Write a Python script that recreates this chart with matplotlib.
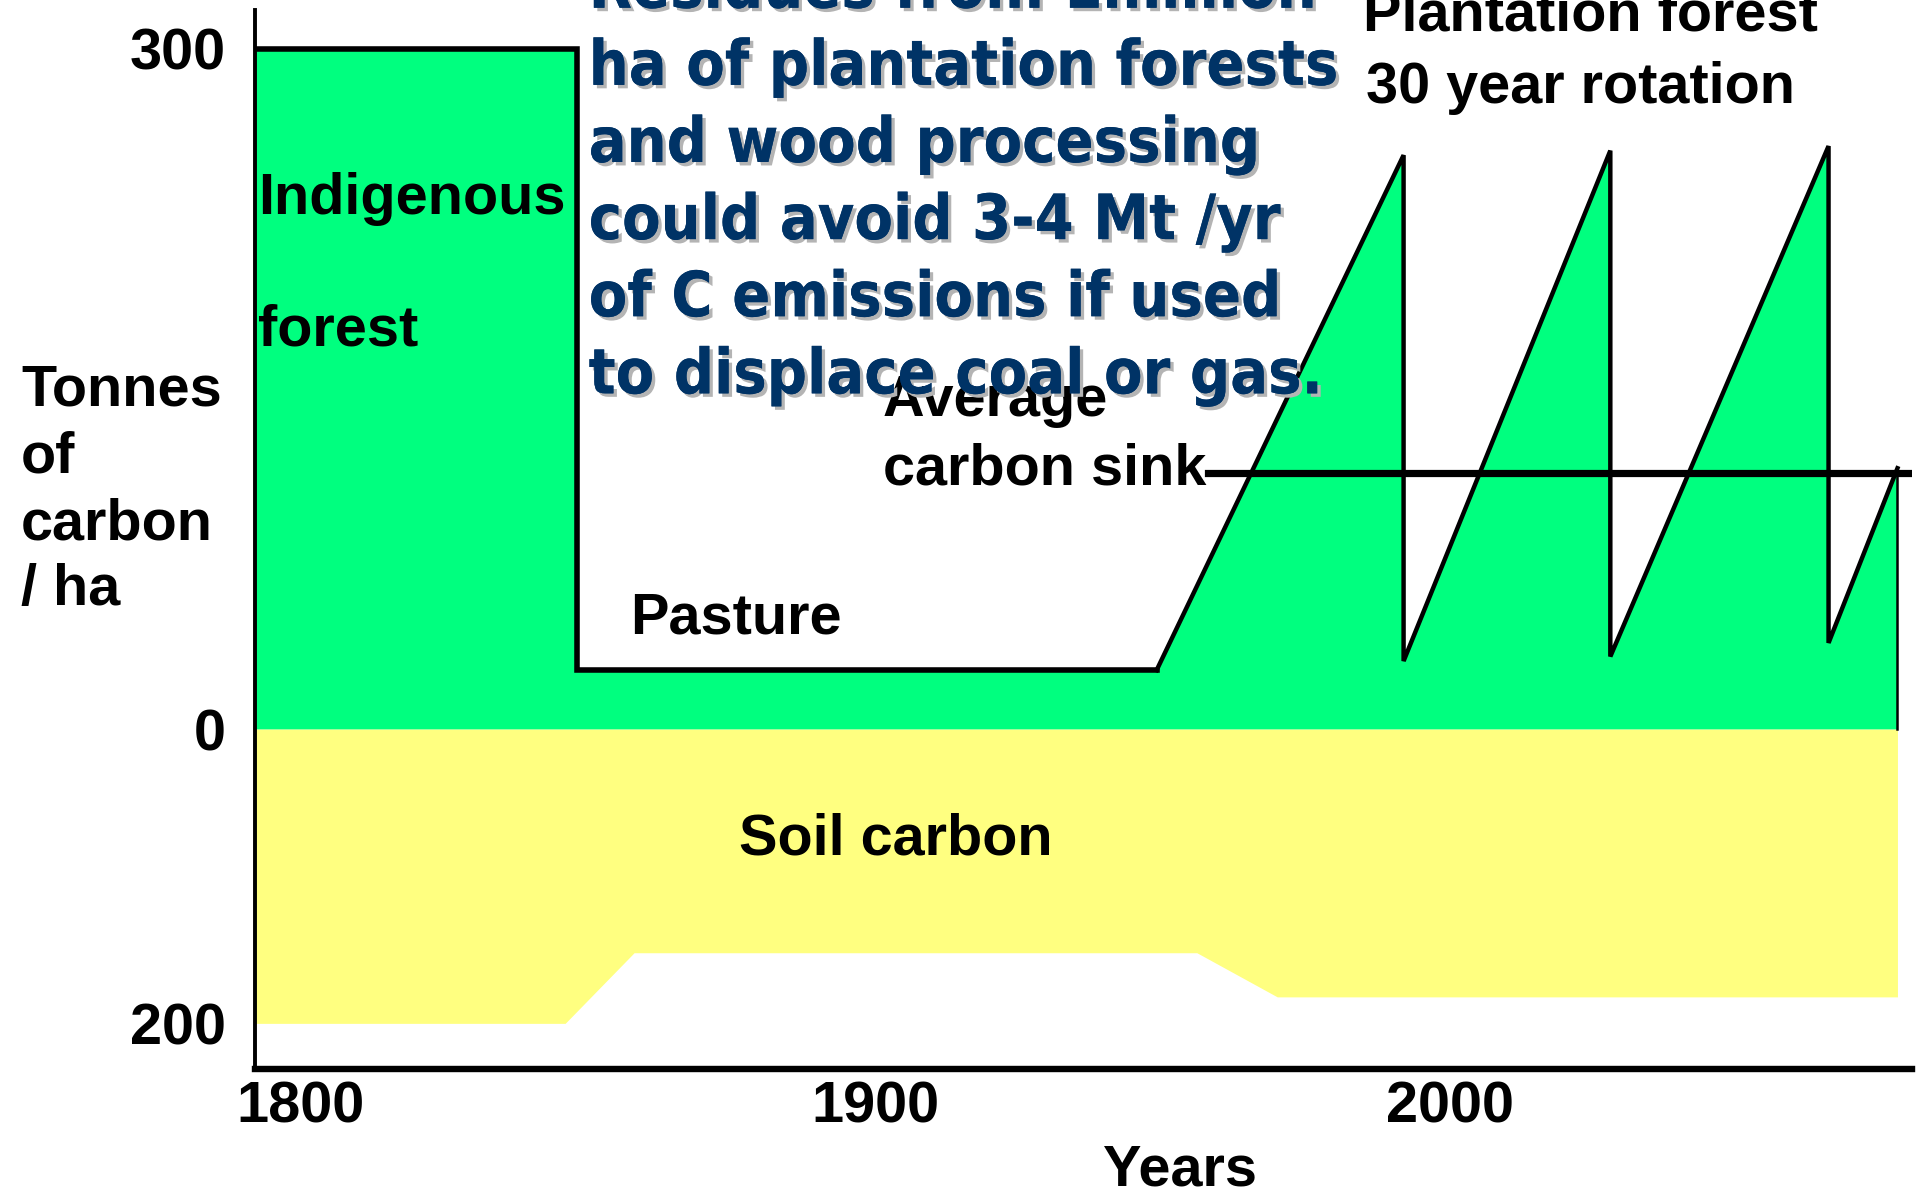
import numpy as np
import matplotlib
matplotlib.use("Agg")
import matplotlib.pyplot as plt
import matplotlib.patheffects as pe

# ---------------------------------------------------------------------------
# Data (years, tonnes of carbon per ha)
# ---------------------------------------------------------------------------
veg_years = [1792, 1848, 1848, 1949, 1992, 1992, 2028, 2028, 2066, 2066, 2078]
veg_carbon = [300, 300, 26, 26, 253, 30, 255, 32, 257, 38, 115]

soil_years = [1792, 1846, 1858, 1956, 1970, 2078]
soil_carbon = [200, 200, 152, 152, 182, 182]

sink_years = [1958, 2080.5]
sink_carbon = [113, 113]

y_ticks = [300, 0, -200]
y_tick_labels = ["300", "0", "200"]
x_ticks = [1800, 1900, 2000]
x_tick_labels = ["1800", "1900", "2000"]

note_lines = [
    "Residues from 1million",
    "ha of plantation forests",
    "and wood processing",
    "could avoid 3-4 Mt /yr",
    "of C emissions if used",
    "to displace coal or gas.",
]

GREEN = "#00FF7F"
YELLOW = "#FFFF80"
NAVY = "#003366"
ARIAL = "Liberation Sans"
FS = 41.5

# soil carbon is drawn on a compressed scale below zero
K = 0.6486


def fwd(y):
    y = np.asarray(y, dtype=float)
    return np.where(y < 0, y * K, y)


def inv(y):
    y = np.asarray(y, dtype=float)
    return np.where(y < 0, y / K, y)


fig = plt.figure(figsize=(19.22, 11.90), dpi=100)
ax = fig.add_axes([0.1327, 0.1017, 0.8623, 0.8899])
ax.set_yscale("function", functions=(fwd, inv))

# fills
ax.fill_between(veg_years, 0, veg_carbon, color=GREEN, linewidth=0, zorder=1)
ax.fill_between(soil_years, 0, -np.array(soil_carbon), color=YELLOW,
                linewidth=0, zorder=1)

# outlines
ax.plot(veg_years[:4], veg_carbon[:4], color="black", lw=4.0, zorder=3,
        solid_joinstyle="miter")
ax.plot(veg_years[3:], veg_carbon[3:], color="black", lw=3.2, zorder=3,
        solid_joinstyle="miter")
ax.plot([veg_years[-1], veg_years[-1]], [veg_carbon[-1], 0], color="black",
        lw=1.8, zorder=3)
ax.plot(sink_years, sink_carbon, color="black", lw=5.2, zorder=4)

ax.set_xlim(1792, 2080.6)
ax.set_ylim(-231, 317)

for side in ["top", "right"]:
    ax.spines[side].set_visible(False)
ax.spines["left"].set_linewidth(2.8)
ax.spines["bottom"].set_linewidth(4.6)
ax.spines["left"].set_zorder(5)
ax.spines["bottom"].set_zorder(5)

ax.set_yticks(y_ticks)
ax.set_yticklabels(y_tick_labels)
ax.set_xticks(x_ticks)
ax.set_xticklabels(x_tick_labels)
ax.tick_params(axis="y", length=0, pad=21)
ax.tick_params(axis="x", length=0, pad=8)
for lab in ax.get_xticklabels() + ax.get_yticklabels():
    lab.set_fontfamily(ARIAL)
    lab.set_fontweight("bold")
    lab.set_fontsize(FS)

# labels in the plot
lbl = dict(fontfamily=ARIAL, fontweight="bold", fontsize=FS, color="black",
           va="baseline", ha="left")
ax.text(1792.5, 227, "Indigenous", zorder=6, **lbl)
ax.text(1792.5, 169, "forest", zorder=6, **lbl)
ax.text(1857.4, 42, "Pasture", zorder=6, **lbl)
ax.text(1901.3, 138, "Average", zorder=6, **lbl)
ax.text(1901.3, 108, "carbon sink", zorder=6, **lbl)
ax.text(1984.9, 308, "Plantation forest", zorder=6, clip_on=False, **lbl)
ax.text(1985.5, 276, "30 year rotation", zorder=6, **lbl)
ax.text(1876.3, -85, "Soil carbon", zorder=6, **lbl)

# blue note with shadow
note_base = [318, 284, 250, 216, 182, 148]
for line, yb in zip(note_lines, note_base):
    t = ax.text(1850.1, yb, line, fontfamily="DejaVu Sans", fontstretch="condensed",
                fontweight="bold", fontsize=45, color=NAVY, va="baseline",
                ha="left", zorder=8, clip_on=False)
    t.set_path_effects([
        pe.withSimplePatchShadow(offset=(2.5, -2.5), shadow_rgbFace="#B4B4B4", alpha=1.0),
        pe.Normal(),
    ])

# axis titles outside
ylab = ["Tonnes", "of", "carbon", "/ ha"]
for txt, yb in zip(ylab, [0.659, 0.603, 0.547, 0.492]):
    fig.text(0.011, yb, txt, fontfamily=ARIAL, fontweight="bold", fontsize=FS,
             va="baseline", ha="left")
fig.text(0.614, 0.004, "Years", fontfamily=ARIAL, fontweight="bold",
         fontsize=FS, va="baseline", ha="center")

fig.savefig("out.png", dpi=100, facecolor="white")
